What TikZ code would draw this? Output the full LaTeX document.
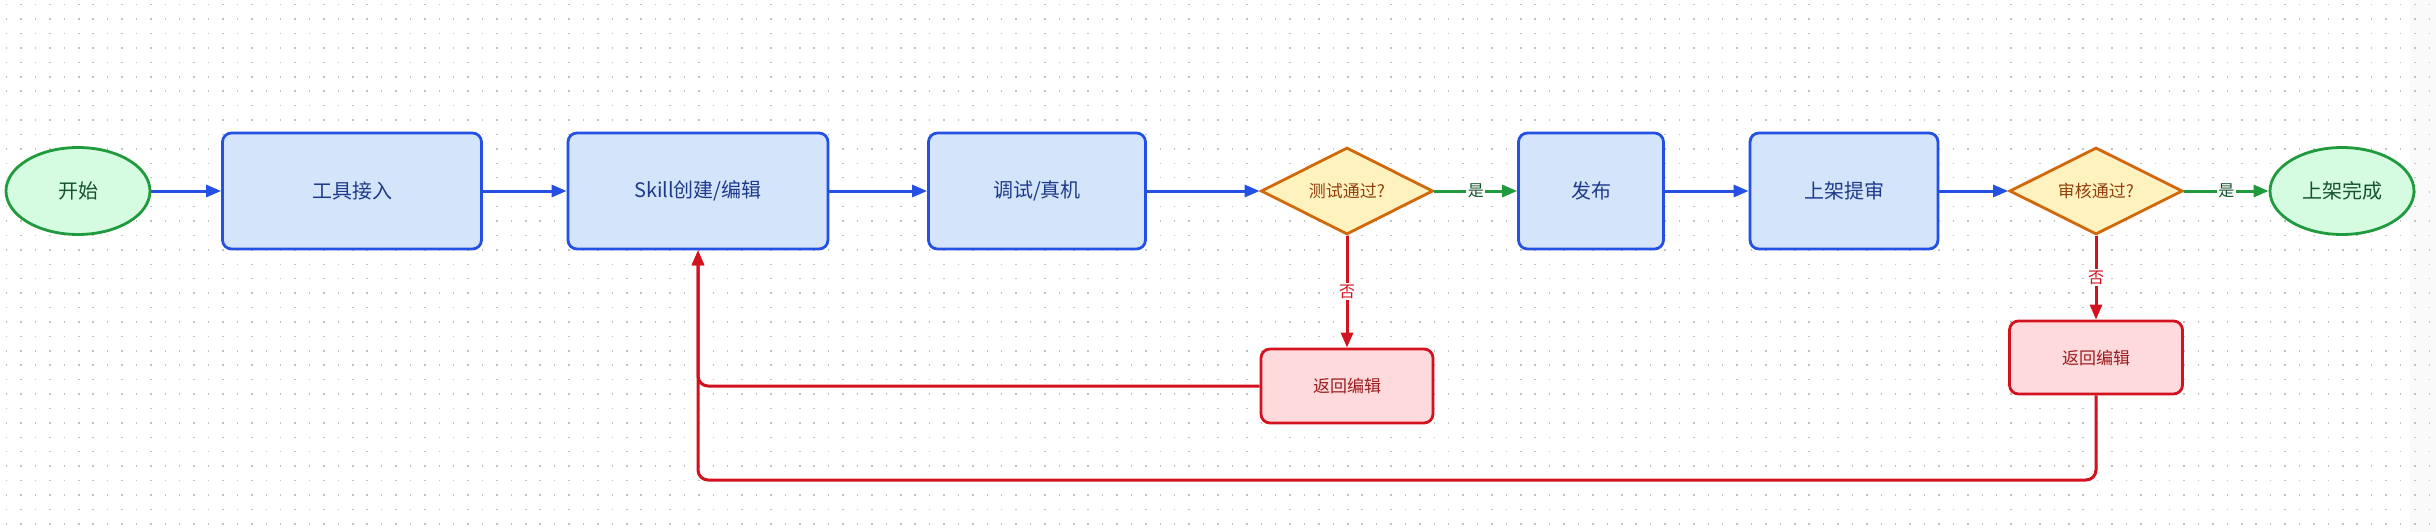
\documentclass[tikz,border=0pt]{standalone}
\usepackage{fontspec}
\setmainfont{Noto Sans CJK SC}
\usetikzlibrary{shapes.geometric,arrows.meta}
\definecolor{bluebd}{HTML}{2550E4}
\definecolor{bluefl}{HTML}{D4E5FB}
\definecolor{bluetx}{HTML}{1E3A8A}
\definecolor{greenbd}{HTML}{1F9A3C}
\definecolor{greenfl}{HTML}{D5FBE0}
\definecolor{greentx}{HTML}{14532D}
\definecolor{amberbd}{HTML}{D2680C}
\definecolor{amberfl}{HTML}{FEF3BE}
\definecolor{ambertx}{HTML}{92400E}
\definecolor{redbd}{HTML}{D2121F}
\definecolor{redfl}{HTML}{FEDADD}
\definecolor{redtx}{HTML}{9B1C1C}
\definecolor{dotc}{HTML}{C2C2C2}
\definecolor{edgegray}{HTML}{FAFAFA}
\tikzset{
  procbox/.style={draw=bluebd, fill=bluefl, text=bluetx, line width=2.8pt, rounded corners=9pt,
    minimum height=116pt, inner sep=0pt, font=\fontsize{20}{24}\selectfont},
  termnode/.style={ellipse, draw=greenbd, fill=greenfl, text=greentx, line width=2.8pt,
    minimum width=144pt, minimum height=87pt, inner sep=0pt, font=\fontsize{20}{24}\selectfont},
  decnode/.style={diamond, aspect=2, draw=amberbd, fill=amberfl, text=ambertx, line width=2.8pt,
    minimum width=172pt, minimum height=87pt, inner sep=0pt, font=\fontsize{17}{20}\selectfont},
  backbox/.style={draw=redbd, fill=redfl, text=redtx, line width=2.8pt, rounded corners=9pt,
    minimum width=172pt, minimum height=73pt, inner sep=0pt, font=\fontsize{17}{20}\selectfont},
  flow/.style={line width=3pt, -{Triangle[length=15pt,width=12pt]}},
  blueflow/.style={flow, draw=bluebd},
  greenflow/.style={flow, draw=greenbd},
  redflow/.style={flow, draw=redbd},
  yeslab/.style={fill=white, text=greentx, inner sep=1.5pt, font=\fontsize{16}{18}\selectfont},
  nolab/.style={fill=white, text=redbd, inner sep=1.5pt, font=\fontsize{16}{18}\selectfont},
}
\begin{document}
\begin{tikzpicture}[x=1pt,y=-1pt]
\useasboundingbox (0,0) rectangle (2436,532);
\fill[white] (0,0) rectangle (2436,532);
\fill[edgegray] (2410,0) rectangle (2436,532);
% dot grid
\foreach \j in {0,...,36} {
  \draw[dotc, line width=1.5pt, dash pattern=on 1.5pt off 12.92pt]
    (5.95,4.7+\j*14.42) -- (2436,4.7+\j*14.42);
}
% nodes
\node[termnode] (start) at (78,191) {开始};
\node[procbox, minimum width=259pt] (tool) at (352,191) {工具接入};
\node[procbox, minimum width=260pt] (skill) at (698,191) {Skill创建/编辑};
\node[procbox, minimum width=217pt] (debug) at (1037,191) {调试/真机};
\node[decnode] (d1) at (1347,191) {测试通过?};
\node[procbox, minimum width=145pt] (pub) at (1591,191) {发布};
\node[procbox, minimum width=188pt] (review) at (1844,191) {上架提审};
\node[decnode, minimum width=173pt] (d2) at (2096,191) {审核通过?};
\node[termnode] (done) at (2342,191) {上架完成};
\node[backbox, minimum height=74pt] (back1) at (1347,386) {返回编辑};
\node[backbox, minimum width=173pt] (back2) at (2096,357.5) {返回编辑};
\coordinate (lowrow) at (0,480);
% connectors
\draw[blueflow] (start) -- (tool);
\draw[blueflow] (tool) -- (skill);
\draw[blueflow] (skill) -- (debug);
\draw[blueflow] (debug) -- (d1);
\draw[greenflow] (d1) -- node[yeslab] {是} (pub);
\draw[blueflow] (pub) -- (review);
\draw[blueflow] (review) -- (d2);
\draw[greenflow] (d2) -- node[yeslab] {是} (done);
\draw[redflow] (d1) -- node[nolab] {否} (back1);
\draw[redflow] (d2) -- node[nolab] {否} (back2);
\draw[redflow, rounded corners=10pt] (back1.west) -- (back1.west -| skill.south) -- (skill.south);
\draw[redflow, rounded corners=10pt] (back2.south) -- (back2.south |- lowrow) -- (skill.south |- lowrow) -- (skill.south);
\end{tikzpicture}
\end{document}
